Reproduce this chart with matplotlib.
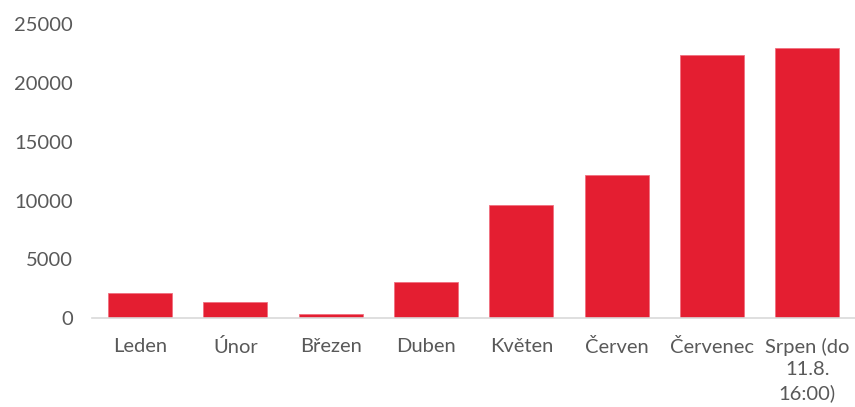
import matplotlib
matplotlib.use("Agg")
import matplotlib.pyplot as plt

categories = ["Leden", "Únor", "Březen", "Duben", "Květen", "Červen", "Červenec", "Srpen (do\n11.8.\n16:00)"]
values = [2120, 1410, 360, 3060, 9610, 12150, 22380, 22950]
yticks = [0, 5000, 10000, 15000, 20000, 25000]

plt.rcParams['font.family'] = ['Lato', 'DejaVu Sans']

fig = plt.figure(figsize=(8.55, 4.07), dpi=100)
ax = fig.add_axes([0.108, 0.218, 0.892, 0.723])
x = range(len(categories))
ax.bar(x, values, width=0.67, color="#E41E31", edgecolor="#F07080", linewidth=0.6)
ax.set_xlim(-0.5, len(categories) - 0.5)
ax.set_ylim(0, 25000)
ax.set_yticks(yticks)
ax.set_yticklabels([str(t) for t in yticks])
ax.set_xticks(list(x))
ax.set_xticklabels(categories, linespacing=1.4, va="top")
for s in ["top", "right", "left"]:
    ax.spines[s].set_visible(False)
ax.spines["bottom"].set_color("#D9D9D9")
ax.spines["bottom"].set_linewidth(1.2)
ax.tick_params(axis="both", length=0, labelsize=14.5, labelcolor="#595959")
ax.tick_params(axis="y", pad=14)
ax.tick_params(axis="x", pad=14)
fig.savefig("out.png", dpi=100)
